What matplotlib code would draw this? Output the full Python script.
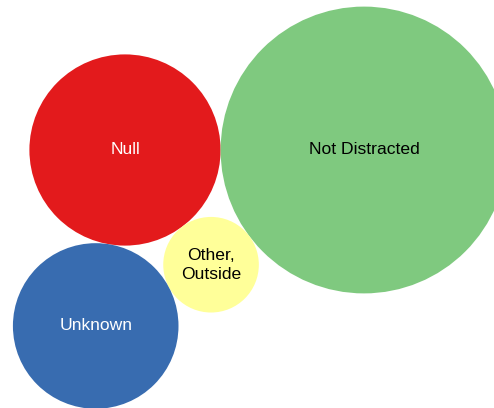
import numpy as np
import matplotlib
matplotlib.use("Agg")
import matplotlib.pyplot as plt
from matplotlib.patches import Circle

# bubble data (area ~ value)
labels = ["Null", "Not Distracted", "Other,\nOutside", "Unknown"]
values = [4, 9, 1, 3]
colors = ["#e31a1c", "#7fc97f", "#ffff99", "#386cb0"]
text_colors = ["white", "black", "black", "white"]

scale = 47.8  # pixels per sqrt(unit)
radii = scale * np.sqrt(np.asarray(values, dtype=float))


def tangent_to(pa, ra, pb, rb, r, side):
    # centre of a circle of radius r touching circles a and b
    pa, pb = np.asarray(pa), np.asarray(pb)
    d = np.linalg.norm(pb - pa)
    da, db = ra + r, rb + r
    a = (da**2 - db**2 + d**2) / (2 * d)
    h = np.sqrt(max(da**2 - a**2, 0))
    u = (pb - pa) / d
    n = np.array([-u[1], u[0]]) * side
    return pa + a * u + h * n


# front-chain packing: first two side by side, then each touches two earlier ones
centers = [np.array([0.0, 0.0]), np.array([radii[0] + radii[1], 0.0])]
centers.append(tangent_to(centers[0], radii[0], centers[1], radii[1], radii[2], 1))
centers.append(tangent_to(centers[0], radii[0], centers[2], radii[2], radii[3], 1))

fig = plt.figure(figsize=(4.94, 4.08), dpi=100)
ax = fig.add_axes([0, 0, 1, 1])
for c, r, col, lab, tc in zip(centers, radii, colors, labels, text_colors):
    ax.add_patch(Circle(c, r, facecolor=col, edgecolor="none"))
    ax.text(c[0], c[1], lab, ha="center", va="center", color=tc,
            fontsize=12.6, family="Liberation Sans", linespacing=1.3)

ax.set_xlim(-125, 369)
ax.set_ylim(258, -150)
ax.set_aspect("equal")
ax.axis("off")

fig.savefig("out.png", dpi=100)
